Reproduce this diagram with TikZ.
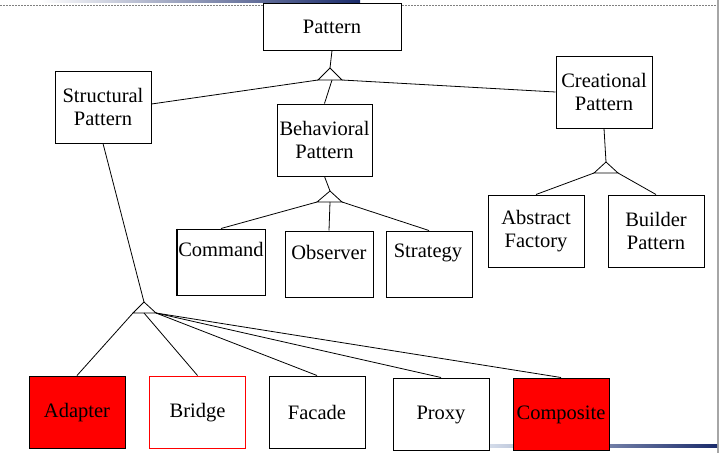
\documentclass[tikz,border=0pt]{standalone}
\usepackage{fontspec}
\setmainfont{Liberation Serif}
\definecolor{navy}{HTML}{1A2B6B}
\definecolor{palebar}{HTML}{D4DCEA}
\begin{document}
\begin{tikzpicture}[x=1pt,y=-1pt,
  box/.style={draw=black,line width=1pt,fill=white,align=center,inner sep=0pt,
    font=\fontsize{20.5}{23.5}\selectfont,minimum width=96pt,minimum height=72pt},
  txt/.style={font=\fontsize{20.5}{23.5}\selectfont,inner sep=0pt},
  conn/.style={draw=black,line width=0.8pt},
  tri/.style={draw=black,line width=0.8pt,line join=miter},
  redbox/.style={box,fill=red},
  ]
\useasboundingbox (0,0) rectangle (719,453);
% decorations
\shade[left color=white,right color=navy] (40,0) rectangle (360,2.5);
\draw[gray,line width=1pt,dash pattern=on 2pt off 1pt] (0,5.5) -- (716,5.5);
\draw[gray!70,line width=1.5pt] (718,0) -- (718,453);
\shade[left color=palebar,right color=navy] (490,444.5) rectangle (717,447.5);

% boxes
\node[box,minimum width=138pt,minimum height=47pt] (pattern) at (332,26.5) {Pattern};
\node[box] (structural) at (103,107) {Structural\\Pattern};
\node[box,minimum width=95pt] (behavioral) at (324.5,140) {Behavioral\\Pattern};
\node[box] (creational) at (604,92) {Creational\\Pattern};
\node[box,minimum width=88pt,minimum height=66pt] (command) at (221,262) {};
\node[box,minimum width=88pt,minimum height=66pt] (observer) at (329,264) {};
\node[box,minimum width=86pt,minimum height=66pt] (strategy) at (429,264) {};
\node[txt] (commandtxt) at (221,249) {Command};
\node[txt] (observertxt) at (329,252) {Observer};
\node[txt] (strategytxt) at (428,253) {Strategy};
\node[box] (abstract) at (536,231) {Abstract\\Factory};
\node[box] (builder) at (656,231) {Builder\\Pattern};
\node[redbox] (adapter) at (77,412) {};
\node[box,draw=red] (bridge) at (197.5,412) {};
\node[box] (facade) at (317,412) {};
\node[box] (proxy) at (441,414) {};
\node[redbox] (composite) at (561,414) {};
\node[txt] (adaptertxt) at (77,413) {Adapter};
\node[txt] (bridgetxt) at (197.5,413) {Bridge};
\node[txt] (facadetxt) at (317,412) {Facade};
\node[txt] (proxytxt) at (441,415) {Proxy};
\node[txt] (compositetxt) at (561,415) {Composite};
\draw[line width=2pt] (command.north west) -- (command.south west);

% triangles
\coordinate (tA) at (330,68); \coordinate (tL) at (318,80); \coordinate (tR) at (342,80); \coordinate (tM) at (332,80);
\coordinate (bA) at (330,191); \coordinate (bL) at (317,202); \coordinate (bR) at (342,202); \coordinate (bM) at (330,202);
\coordinate (cA) at (606,162); \coordinate (cL) at (594,173); \coordinate (cR) at (618,173);
\coordinate (sA) at (144,302); \coordinate (sL) at (133,313); \coordinate (sR) at (156,313); \coordinate (sM) at (144,313);
\draw[tri] (tA) -- (tL) -- (tR) -- cycle;
\draw[tri] (bA) -- (bL) -- (bR) -- cycle;
\draw[tri] (cA) -- (cL) -- (cR) -- cycle;
\draw[tri] (sA) -- (sL) -- (sR) -- cycle;

% connectors
\draw[conn] (pattern.south) -- (tA);
\draw[conn] (tL) -- ([yshift=3pt]structural.east);
\draw[conn] (tM) -- (behavioral.north);
\draw[conn] (tR) -- (creational.west);
\draw[conn] (behavioral.south) -- (bA);
\draw[conn] (bL) -- (command.north);
\draw[conn] (bM) -- (observer.north);
\draw[conn] (bR) -- (strategy.north);
\draw[conn] (creational.south) -- (cA);
\draw[conn] (cL) -- (abstract.north);
\draw[conn] (cR) -- (builder.north);
\draw[conn] (structural.south) -- (sA);
\draw[conn] (sL) -- (adapter.north);
\draw[conn] (sM) -- (bridge.north);
\draw[conn] (sR) -- (facade.north);
\draw[conn] (sR) -- (proxy.north);
\draw[conn] (sR) -- (composite.north);
\end{tikzpicture}
\end{document}
